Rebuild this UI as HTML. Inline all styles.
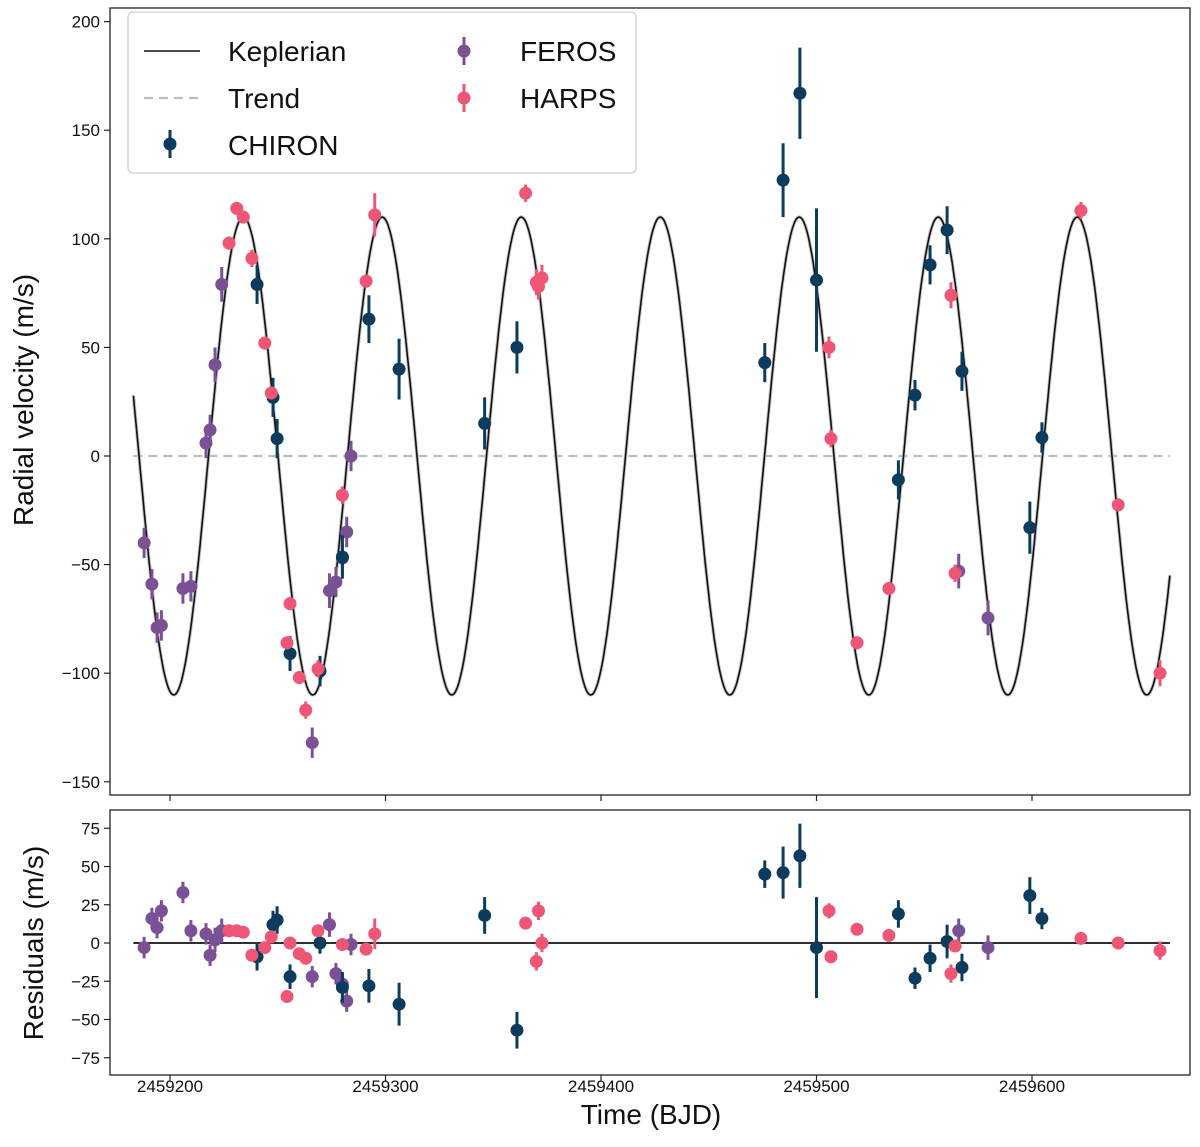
<!DOCTYPE html>
<html><head><meta charset="utf-8">
<style>
body{margin:0;background:#fff;}
svg text{font-family:"Liberation Sans","DejaVu Sans",sans-serif;fill:#111;}
</style></head>
<body>
<svg id="chart" width="1200" height="1142" viewBox="0 0 1200 1142" xmlns="http://www.w3.org/2000/svg"></svg>
<script>
// ---- data (time offsets from BJD 2459200) ----
const xTickLabels = ["2459200","2459300","2459400","2459500","2459600"];
const xTickValues = [0,100,200,300,400];
const yTickValues = [200,150,100,50,0,-50,-100,-150];
const rTickValues = [75,50,25,0,-25,-50,-75];

const chironT = [40.4,47.8,49.7,55.7,69.6,80,92.3,106.3,146,161,276,284.5,292.3,300,338,345.7,352.7,360.6,367.5,399,404.6];
const chironV = [79,27,8,-91,-99,-46.5,63,40,15,50,43,127,167,81,-11,28,88,104,39,-33,8.5];
const chironE = [9,9,9,8,7,10,11,14,12,12,9,17,21,33,9,7,9,11,9,12,7];
const chironR = [-9,12,15,-22,0,-29,-28,-40,18,-57,45,46,57,-3,19,-23,-10,1,-16,31,16];

const ferosT = [-12,-8.4,-6,-4,6,9.7,16.7,18.6,20.9,24,66,74,77,80,82,84,366,379.6];
const ferosV = [-40,-59,-79,-78,-61,-60,6,12,42,79,-132,-62,-58,-47,-35,0,-53,-74.6];
const ferosE = [7,7,7,7,7,7,7,7,8,8,7,8,7,7,7,7,8,8];
const ferosR = [-3,16,10,21,33,8,6,-8,2,8,-22,12,-20,-27,-38,-1,8,-3];

const harpsT = [27.4,31,34,38,44,47,54.3,55.7,60,63,68.7,80,91,95,165,170,172.6,171,305.8,306.7,318.8,333.6,362.4,364.3,422.7,440,459.4];
const harpsV = [98,114,110,91,52,29,-86,-68,-102,-117,-98,-18,80.5,111,121,80,82,78,50,8,-86,-61,74,-54,113,-22.5,-100];
const harpsE = [3,3,3,4,3,3,3,3,3,4,4,4,3,10,4,6,6,6,5,4,3,3,6,4,4,3,6];
const harpsR = [8,8,7,-8,-3,4,-35,0,-7,-10,8,-1,-4,6,13,-12,0,21,21,-9,9,5,-20,-2,3,0,-5];

const kepK = [110];
const kepP = [64.5];
const kepTp = [34];

// ---- axes ----
const X0=170, XS=2.155;
function sx(t){return X0+XS*t;}
function sy(v){return 456-2.172*v;}
function sr(r){return 943-1.53*r;}
function model(t){return kepK[0]*Math.cos(2*Math.PI*(t-kepTp[0])/kepP[0]);}

const svg=document.getElementById('chart');
const NS='http://www.w3.org/2000/svg';
function mk(tag,attrs,parent){const e=document.createElementNS(NS,tag);for(const k in attrs)e.setAttribute(k,attrs[k]);(parent||svg).appendChild(e);return e;}

let f1=mk('rect',{x:110,y:8,width:1080,height:787,fill:'none',stroke:'#222','stroke-width':1.3});


let f2=mk('rect',{x:110,y:810,width:1080,height:265,fill:'none',stroke:'#222','stroke-width':1.3});



yTickValues.forEach(v=>{
  const y=sy(v);
  mk('line',{x1:104,x2:110,y1:y,y2:y,stroke:'#222','stroke-width':1.2});
  const t=mk('text',{x:100,y:y+6,'text-anchor':'end','font-size':17});
  t.textContent=(v<0?'\u2212'+(-v):v);
  
  
});
rTickValues.forEach(v=>{
  const y=sr(v);
  mk('line',{x1:104,x2:110,y1:y,y2:y,stroke:'#222','stroke-width':1.2});
  const t=mk('text',{x:100,y:y+6,'text-anchor':'end','font-size':17});
  t.textContent=(v<0?'\u2212'+(-v):v);
  
  
});
xTickValues.forEach((v,i)=>{
  const x=sx(v);
  mk('line',{x1:x,x2:x,y1:795,y2:801,stroke:'#222','stroke-width':1.2});
  mk('line',{x1:x,x2:x,y1:1075,y2:1081,stroke:'#222','stroke-width':1.2});
  const t=mk('text',{x:x,y:1092,'text-anchor':'middle','font-size':17});
  t.textContent=xTickLabels[i];
  
  
});

let yl=mk('text',{x:0,y:0,'text-anchor':'middle','font-size':28,transform:'translate(33,400) rotate(-90)'});
yl.textContent='Radial velocity (m/s)';


let rl=mk('text',{x:0,y:0,'text-anchor':'middle','font-size':28,transform:'translate(43,943) rotate(-90)'});
rl.textContent='Residuals (m/s)';


let xl=mk('text',{x:651,y:1124,'text-anchor':'middle','font-size':28});
xl.textContent='Time (BJD)';



let tr=mk('line',{x1:sx(-17),x2:sx(464),y1:sy(0),y2:sy(0),stroke:'#bdbdbd','stroke-width':2.2,'stroke-dasharray':'9,6'});



let d='';
for(let t=-17;t<=464;t+=0.5){d+=(d?'L':'M')+sx(t).toFixed(1)+','+sy(model(t)).toFixed(1);}
let band=mk('path',{d:d,fill:'none',stroke:'#c4c4c4','stroke-width':3.5});


let kp=mk('path',{d:d,fill:'none',stroke:'#111','stroke-width':1.6});



let zl=mk('line',{x1:sx(-17),x2:sx(464),y1:sr(0),y2:sr(0),stroke:'#111','stroke-width':1.8});



function pts(T,V,E,R,color,name){
  T.forEach((t,i)=>{
    const x=sx(t);
    const g=mk('g',{});
    
    
    mk('line',{x1:x,x2:x,y1:sy(V[i]+E[i]),y2:sy(V[i]-E[i]),stroke:color,'stroke-width':3},g);
    mk('circle',{cx:x,cy:sy(V[i]),r:6.5,fill:color},g);
    const g2=mk('g',{});
    
    
    mk('line',{x1:x,x2:x,y1:sr(R[i]+E[i]),y2:sr(R[i]-E[i]),stroke:color,'stroke-width':3},g2);
    mk('circle',{cx:x,cy:sr(R[i]),r:6.5,fill:color},g2);
  });
}
pts(ferosT,ferosV,ferosE,ferosR,'#7a5195','feros');
pts(chironT,chironV,chironE,chironR,'#0b3c5d','chiron');
pts(harpsT,harpsV,harpsE,harpsR,'#ef5675','harps');

const lg=mk('g',{});


mk('rect',{x:128,y:12,width:508,height:161,rx:5,fill:'#fff',stroke:'#d0d0d0','stroke-width':1.3},lg);
mk('line',{x1:144,x2:200,y1:51,y2:51,stroke:'#111','stroke-width':1.6},lg);
mk('line',{x1:144,x2:200,y1:98,y2:98,stroke:'#bdbdbd','stroke-width':2.2,'stroke-dasharray':'9,6'},lg);
mk('line',{x1:170,x2:170,y1:130,y2:158,stroke:'#0b3c5d','stroke-width':3},lg);
mk('circle',{cx:170,cy:144,r:6.5,fill:'#0b3c5d'},lg);
mk('line',{x1:464,x2:464,y1:37,y2:65,stroke:'#7a5195','stroke-width':3},lg);
mk('circle',{cx:464,cy:51,r:6.5,fill:'#7a5195'},lg);
mk('line',{x1:464,x2:464,y1:84,y2:112,stroke:'#ef5675','stroke-width':3},lg);
mk('circle',{cx:464,cy:98,r:6.5,fill:'#ef5675'},lg);
[['Keplerian',228,61],['Trend',228,108],['CHIRON',228,155],['FEROS',520,61],['HARPS',520,108]].forEach(a=>{
  const t=mk('text',{x:a[1],y:a[2],'font-size':28},lg);
  t.textContent=a[0];
  
  
});
</script>
</body></html>
